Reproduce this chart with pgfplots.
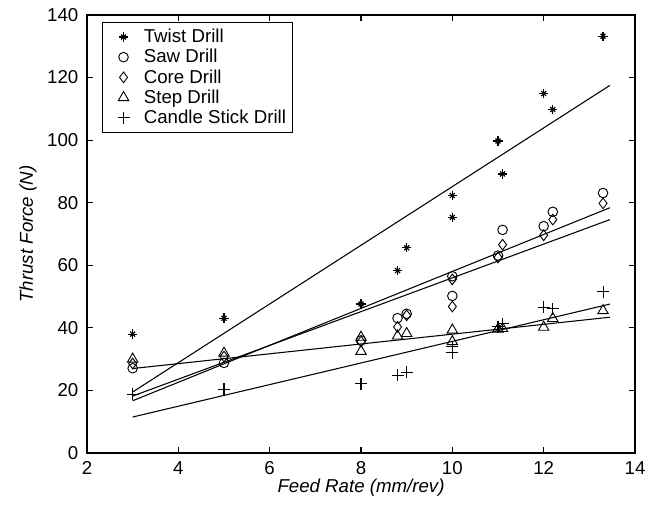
\documentclass[border=0pt]{standalone}
\usepackage{fontspec}
\setmainfont{Liberation Sans}
\usepackage{pgfplots}
\pgfplotsset{compat=1.18}
\pgfplotsset{
  mylegend/.style={legend image code/.code={
    \path[draw=none, fill=none] (0pt,-3pt) rectangle (26pt,3pt);
    \draw[##1, only marks] plot coordinates {(12.75pt,0pt)};}},
  twistlegend/.style={legend image code/.code={
    \path[draw=none, fill=none] (0pt,-3pt) rectangle (26pt,3pt);
    \draw[##1, only marks] plot coordinates {(12.75pt,0pt)};
    \draw[##1, only marks, mark=x, mark size=2.6pt] plot coordinates {(12.75pt,0pt)};}},
}
\begin{document}
\begin{tikzpicture}
\begin{axis}[
  name=ax,
  scale only axis, width=411pt, height=328.5pt,
  xmin=2, xmax=14, ymin=0, ymax=140,
  xtick={2,4,...,14}, ytick={0,20,...,140},
  tick align=inside, major tick length=4.5pt,
  axis line style={line width=1pt},
  every tick/.style={black, line width=0.8pt},
  tick label style={font=\fontsize{14}{16}\selectfont},
  xticklabel style={yshift=-3pt},
  yticklabel style={xshift=-3pt},
  /pgf/number format/assume math mode=true,
  xlabel={\itshape Feed Rate (mm/rev)},
  ylabel={\itshape Thrust Force (N)},
  label style={font=\fontsize{14}{16}\selectfont},
  xlabel style={at={(axis description cs:0.5,-0.08)}, anchor=center},
  ylabel style={at={(axis description cs:-0.1077,0.5)}, anchor=center},
  legend style={at={(axis description cs:0,1)}, anchor=north west, xshift=11.25pt, yshift=-5.25pt,
    draw=black, line width=0.8pt, font=\fontsize{14}{16}\selectfont, row sep=-0.5pt, inner sep=3pt,
    nodes={inner xsep=2pt}},
  legend cell align=left,
]
\addplot[only marks, mark=+, mark size=3.5pt, black, line width=0.9pt, twistlegend] coordinates {
(3,38.0) (5,43.1) (8,47.6) (8.8,58.3) (9,65.6) (10,82.3) (10,75.3) (11,99.7) (11.1,89.2) (12,114.9) (12.2,109.8) (13.3,133.2)};
\addlegendentry{Twist Drill}
\addplot[only marks, mark=x, mark size=2.6pt, black, line width=0.9pt, forget plot] coordinates {
(3,38.0) (5,43.1) (8,47.6) (8.8,58.3) (9,65.6) (10,82.3) (10,75.3) (11,99.7) (11.1,89.2) (12,114.9) (12.2,109.8) (13.3,133.2)};
\addplot[only marks, mark=o, mark size=3.6pt, black, line width=0.7pt, mylegend] coordinates {
(3,27.1) (5,28.8) (8,36) (8.8,43.1) (9,44.5) (10,56.5) (10,50.2) (11.1,71.3) (11,63.1) (12,72.5) (12.2,77.1) (13.3,83.1)};
\addlegendentry{Saw Drill}
\addplot[only marks, mark=diamond, mark size=4pt, black, line width=0.7pt, mylegend] coordinates {
(3,28.6) (5,30.8) (8,35.6) (8.8,40.3) (9,44) (10,55.5) (10,46.8) (11.1,66.6) (11,62.5) (12,69.6) (12.2,74.6) (13.3,79.8)};
\addlegendentry{Core Drill}
\addplot[only marks, mark=triangle, mark size=4.5pt, black, line width=0.7pt, mylegend] coordinates {
(3,30) (5,31.9) (8,37) (8,32.5) (8.8,37.4) (9,38.2) (10,39.3) (10,35.6) (11,39.6) (11.1,39.8) (12,40.2) (12.2,43) (13.3,45.5)};
\addlegendentry{Step Drill}
\addplot[only marks, mark=+, mark size=4.5pt, black, line width=0.8pt, mylegend] coordinates {
(3,18.7) (5,20.4) (8,22.1) (8.8,24.8) (9,25.8) (10,34) (10,32) (11,40.3) (11.1,41.3) (12,46.6) (12.2,46.1) (13.3,51.5)};
\addlegendentry{Candle Stick Drill}
% fitted lines
\addplot[black, line width=0.8pt, forget plot] coordinates {(3,19.5) (13.45,117.5)};
\addplot[black, line width=0.8pt, forget plot] coordinates {(3,16.7) (13.45,78.4)};
\addplot[black, line width=0.8pt, forget plot] coordinates {(3,18.2) (13.45,74.6)};
\addplot[black, line width=0.8pt, forget plot] coordinates {(3,27.0) (13.45,43.4)};
\addplot[black, line width=0.8pt, forget plot] coordinates {(3,11.5) (13.45,47.6)};
\node[anchor=east, font=\fontsize{14}{16}\selectfont] at (axis description cs:1,-0.091) {x 10\textsuperscript{-3}};
\end{axis}
\pgfresetboundingbox
\path[use as bounding box] ([shift={(-65.25pt,-42.75pt)}]ax.south west) rectangle ([shift={(18.75pt,11.25pt)}]ax.north east);
\end{tikzpicture}
\end{document}
